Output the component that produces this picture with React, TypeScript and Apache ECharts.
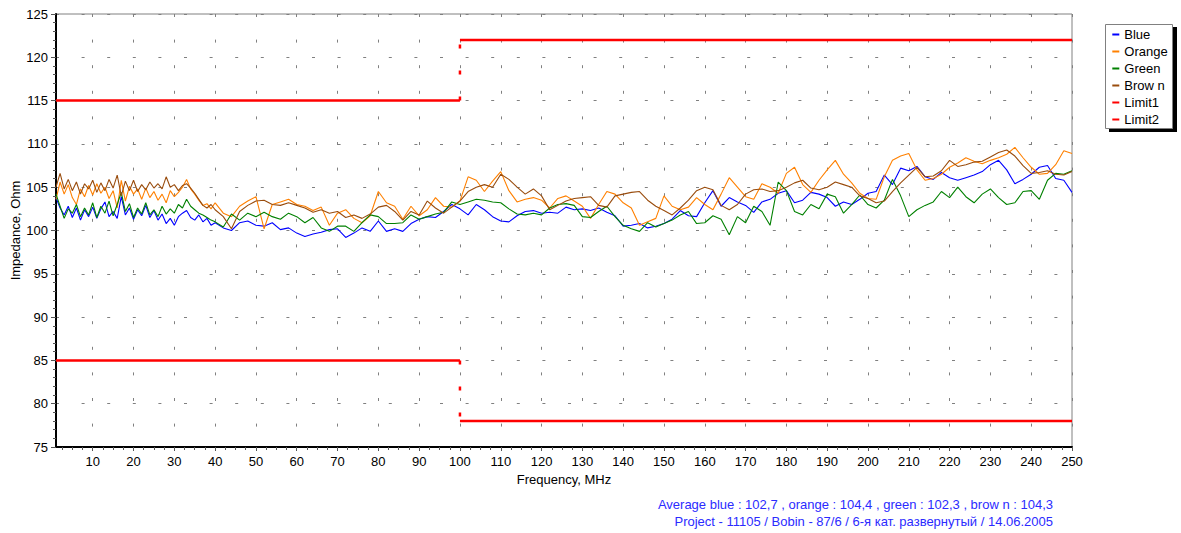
import React, { useEffect, useRef } from "react";
import * as echarts from "echarts";

// Frequency samples (MHz)
const FREQ = [
  1, 2, 3, 4, 5, 6, 7, 8, 9, 10,
  11, 12, 13, 14, 15, 16, 17, 18, 19, 20,
  21, 22, 23, 24, 25, 26, 27, 28, 29, 30,
  31, 32, 33, 34, 35, 36, 37, 38, 39, 40,
  42, 44, 46, 48, 50, 52, 54, 56, 58, 60,
  62, 64, 66, 68, 70, 72, 74, 76, 78, 80,
  82, 84, 86, 88, 90, 92, 94, 96, 98, 100,
  102, 104, 106, 108, 110, 112, 114, 116, 118, 120,
  122, 124, 126, 128, 130, 132, 134, 136, 138, 140,
  142, 144, 146, 148, 150, 152, 154, 156, 158, 160,
  162, 164, 166, 168, 170, 172, 174, 176, 178, 180,
  182, 184, 186, 188, 190, 192, 194, 196, 198, 200,
  202, 204, 206, 208, 210, 212, 214, 216, 218, 220,
  222, 224, 226, 228, 230, 232, 234, 236, 238, 240,
  242, 244, 246, 248, 250,
];

const BLUE = [
  103.8, 102.6, 101.8, 102.8, 101.5, 102.6, 101.2, 102.4, 101.6, 102.7,
  101.4, 102.5, 103.3, 101.6, 102.2, 101.4, 103.9, 101.8, 102.6, 101.3,
  102.4, 101.7, 102.9, 101.5, 102.3, 101.2, 101.9, 100.8, 101.4, 100.6,
  101.6, 102.0, 102.3, 101.5, 101.2, 101.8, 101.0, 101.4, 100.6, 100.9,
  100.3, 100.0, 100.9, 101.1, 100.6, 100.5, 100.9, 100.1, 100.3, 99.7,
  99.3, 99.6, 99.8, 100.1, 100.2, 99.2, 99.7, 100.3, 99.9, 101.1,
  99.9, 100.2, 99.9, 100.8, 101.3, 101.6, 101.5, 102.2, 103.0, 102.5,
  101.8, 103.0, 102.4, 101.6, 101.1, 101.0, 101.7, 102.2, 102.3, 102.0,
  102.1, 102.0, 102.7, 102.4, 102.5, 102.3, 102.6, 102.1, 101.7, 100.5,
  100.6, 100.8, 100.3, 100.5, 100.8, 101.3, 102.3, 101.7, 101.6, 103.2,
  104.6, 102.8, 103.8, 103.3, 102.9, 102.1, 103.3, 103.6, 104.3, 104.6,
  103.2, 103.5, 104.4, 104.2, 103.8, 102.8, 103.3, 103.0, 103.6, 104.3,
  104.5, 106.4, 105.3, 107.2, 106.9, 107.4, 106.2, 105.9, 106.7, 106.1,
  105.8, 106.1, 106.4, 106.8, 107.6, 108.1, 107.0, 105.4, 105.9, 106.5,
  107.3, 107.5, 106.0, 105.8, 104.4,
];

const ORANGE = [
  103.6, 105.6, 104.2, 105.3, 103.8, 103.0, 104.8, 103.9, 105.2, 104.1,
  105.4, 104.3, 105.0, 103.7, 104.6, 102.6, 105.8, 103.4, 105.1, 104.2,
  104.8, 103.6, 104.9, 103.8, 104.5, 103.5, 104.2, 103.2, 104.6, 103.9,
  104.4, 105.0, 105.9, 104.8, 104.2, 103.5, 102.9, 103.1, 102.5, 103.2,
  102.0, 101.6, 102.8, 103.4, 103.9, 100.2, 103.0, 103.3, 103.6, 103.0,
  102.8, 102.3, 102.7, 100.6, 102.0, 102.4, 101.4, 100.9, 101.7, 104.5,
  103.2, 102.8, 101.3, 102.8, 101.7, 102.4, 103.8, 102.8, 102.7, 103.4,
  106.2, 105.8, 104.5, 105.7, 106.8, 104.6, 103.3, 103.6, 103.8, 103.5,
  102.6, 103.7, 104.0, 103.4, 102.8, 101.4, 103.0, 104.5, 104.2, 103.2,
  102.6, 100.6, 101.0, 101.4, 104.0, 102.8, 102.4, 102.7, 103.8, 103.0,
  102.4, 104.2, 106.1, 105.0, 103.9, 103.6, 105.4, 105.0, 104.3, 106.6,
  107.3, 105.3, 104.4, 105.8, 107.0, 108.1, 106.5, 105.5, 104.3, 103.7,
  103.6, 106.2, 108.1, 108.6, 108.9, 107.0, 105.8, 106.0, 106.5, 107.3,
  107.8, 108.4, 108.0, 107.7, 108.1, 108.4, 108.8, 109.6, 108.4, 107.3,
  106.5, 106.6, 107.6, 109.2, 108.9,
];

const GREEN = [
  104.2, 102.8, 101.4, 102.5, 102.0, 103.0, 101.6, 102.6, 101.8, 103.2,
  101.5, 102.8, 102.0, 103.4, 101.7, 103.0, 104.4, 102.2, 103.1, 101.5,
  102.6, 101.9, 103.2, 101.8, 102.4, 101.6, 102.8, 101.9, 102.5, 102.0,
  103.0, 102.6, 103.6, 102.8, 102.4, 102.0, 101.8, 101.5, 101.2, 101.0,
  100.4, 101.9, 101.2, 102.0, 101.6, 102.1, 101.6, 101.3, 102.0, 101.6,
  100.9, 101.5, 100.3, 99.9, 100.5, 100.5, 99.9, 100.9, 101.8, 101.6,
  100.8, 100.8, 100.9, 101.8, 101.3, 101.6, 101.9, 102.1, 103.3, 103.0,
  103.3, 103.6, 103.5, 103.3, 103.2, 102.5, 101.9, 101.8, 102.0, 101.8,
  102.6, 103.0, 103.1, 102.9, 101.6, 101.5, 102.2, 102.8, 101.6, 100.6,
  100.2, 99.9, 100.9, 100.4, 100.8, 101.2, 101.8, 102.2, 100.8, 100.9,
  101.7, 101.3, 99.5, 101.6, 100.9, 102.8, 102.2, 100.6, 105.6, 104.6,
  102.2, 101.8, 103.0, 102.5, 104.2, 103.9, 102.0, 103.0, 104.1, 103.0,
  102.6, 103.5, 105.9, 104.0, 101.6, 102.4, 102.9, 103.3, 104.5, 103.8,
  105.0, 103.9, 103.2, 104.2, 104.8, 103.8, 103.0, 103.2, 104.5, 104.6,
  103.6, 105.8, 106.6, 106.5, 106.9,
];

const BROWN = [
  105.0, 106.6, 104.8, 105.9, 104.6, 105.6, 104.2, 105.4, 104.8, 105.8,
  104.4, 105.5, 104.6, 105.9, 104.9, 106.4, 104.0, 105.7, 104.6, 105.8,
  104.5, 105.3, 104.7, 105.6, 104.9, 105.4, 104.8, 106.2, 105.0, 105.3,
  104.6, 105.2, 105.4, 104.9, 104.3, 103.6, 102.9, 102.6, 103.0, 102.4,
  101.6, 100.2, 102.2, 102.9, 103.4, 103.5, 103.0, 102.9, 103.2, 102.9,
  102.6, 102.1, 102.4, 102.0, 102.2, 101.5, 101.8, 101.4, 101.9, 102.7,
  102.9, 102.2, 101.2, 102.2, 101.8, 103.4, 102.6, 102.0, 102.7, 103.4,
  104.5, 105.0, 105.3, 105.0, 106.5, 105.9, 105.0, 104.2, 104.8, 104.0,
  102.4, 102.9, 103.4, 103.7, 103.8, 103.9, 102.9, 102.7, 104.0, 104.2,
  104.4, 104.5, 103.5, 102.8, 102.3, 101.8, 102.6, 103.5, 104.6, 105.0,
  104.7, 102.9, 102.4, 103.0, 104.2, 104.7, 104.8, 104.5, 104.6, 105.0,
  105.5, 105.8, 104.9, 104.7, 105.0, 105.6, 105.3, 105.0, 104.0, 103.7,
  103.2, 103.4, 104.5, 105.5, 106.4, 107.3, 106.2, 106.3, 106.9, 108.1,
  107.4, 107.6, 107.9, 108.0, 108.5, 109.0, 109.3, 108.6, 107.5, 106.6,
  106.7, 106.9, 106.5, 106.4, 106.8,
];

// Limit lines: [freq, value] break points
const LIMIT_FREQ = [1, 100, 100, 250];
const LIMIT1 = [115, 115, 122, 122];
const LIMIT2 = [85, 85, 78, 78];

const X_LABELS = [
  10, 20, 30, 40, 50, 60, 70, 80, 90, 100, 110, 120, 130,
  140, 150, 160, 170, 180, 190, 200, 210, 220, 230, 240, 250,
];

const LEGEND_NAMES = ["Blue", "Orange", "Green", "Brow n", "Limit1", "Limit2"];
const FOOT_1 = "Average blue : 102,7 , orange : 104,4 , green : 102,3 , brow n : 104,3";
const FOOT_2 = "Project - 11105 / Bobin - 87/6 / 6-я кат. развернутый / 14.06.2005";

const FONT = '"Liberation Sans", Arial, sans-serif';

function pairs(xs: number[], ys: number[]) {
  return xs.map((x, i) => [x, ys[i]]);
}

function limitData(vals: number[]) {
  return [
    [LIMIT_FREQ[0], vals[0]],
    [LIMIT_FREQ[1], vals[1]],
    [LIMIT_FREQ[1], null],
    [LIMIT_FREQ[2], vals[2]],
    [LIMIT_FREQ[3], vals[3]],
  ];
}

export default function App() {
  const ref = useRef<HTMLDivElement>(null);

  useEffect(() => {
    if (!ref.current) return;
    const chart = echarts.init(ref.current, undefined, { renderer: "svg" });
    const minorTicks: number[] = [];
    for (let v = 2.5; v <= 250; v += 2.5) minorTicks.push(v);

    const lineSeries = (name: string, color: string, ys: number[]) => ({
      type: "line",
      name,
      data: pairs(FREQ, ys),
      showSymbol: false,
      symbol: "none",
      lineStyle: { color, width: 1.1 },
      itemStyle: { color },
      z: 3,
    });

    const option: any = {
      animation: false,
      backgroundColor: "#ffffff",
      textStyle: { fontFamily: FONT },
      grid: {
        left: 56,
        top: 14,
        right: 109,
        bottom: 86,
        show: true,
        borderColor: "#808080",
        borderWidth: 1,
        containLabel: false,
        outerBoundsMode: "none",
      },
      xAxis: [
        {
          type: "value",
          min: 1,
          max: 250,
          name: "Frequency, MHz",
          nameLocation: "middle",
          nameGap: 26,
          nameMoveOverlap: false,
          nameTextStyle: { fontSize: 13, color: "#000", fontFamily: FONT },
          axisLine: { show: true, onZero: false, lineStyle: { color: "#000", width: 2 } },
          axisTick: { show: true, length: 4, customValues: X_LABELS, lineStyle: { color: "#555" } },
          axisLabel: { customValues: X_LABELS, fontSize: 13, color: "#000", margin: 8, fontFamily: FONT },
          splitLine: { show: true, lineStyle: { color: "#808080", width: 1, type: [3, 22.6] } },
        },
        {
          type: "value",
          min: 1,
          max: 250,
          position: "bottom",
          axisLine: { show: false },
          axisTick: { show: true, length: 3, customValues: minorTicks, lineStyle: { color: "#555" } },
          axisLabel: { show: false },
          splitLine: { show: false },
        },
      ],
      yAxis: {
        type: "value",
        min: 75,
        max: 125,
        interval: 5,
        name: "Impedance, Ohm",
        nameLocation: "middle",
        nameGap: 34,
        nameMoveOverlap: false,
        nameTextStyle: { fontSize: 13, color: "#000", fontFamily: FONT },
        axisLine: { show: true, onZero: false, lineStyle: { color: "#000", width: 2 } },
        axisTick: { show: true, length: 5, lineStyle: { color: "#555" } },
        minorTick: { show: true, splitNumber: 5, length: 3, lineStyle: { color: "#555" } },
        axisLabel: { fontSize: 13, color: "#000", margin: 8, fontFamily: FONT },
        splitLine: { show: true, lineStyle: { color: "#808080", width: 1, type: [3, 22.6] } },
      },
      legend: {
        orient: "vertical",
        left: 1111,
        top: 28,
        itemWidth: 7,
        itemHeight: 12,
        itemGap: 4,
        padding: 0,
        data: LEGEND_NAMES,
        itemStyle: { opacity: 0 },
        textStyle: { fontSize: 13, color: "#000", fontFamily: FONT },
        z: 10,
      },
      graphic: [
        { type: "rect", z: 1, shape: { x: 1109, y: 27, width: 68, height: 105 }, style: { fill: "#000" } },
        {
          type: "rect",
          z: 2,
          shape: { x: 1105.5, y: 24.5, width: 67, height: 104 },
          style: { fill: "#fff", stroke: "#808080", lineWidth: 1 },
        },
        {
          type: "text",
          x: 1053,
          y: 504,
          style: { text: FOOT_1, fill: "#2b2bff", fontSize: 13, fontFamily: FONT, align: "right", verticalAlign: "middle" },
        },
        {
          type: "text",
          x: 1053,
          y: 521,
          style: { text: FOOT_2, fill: "#2b2bff", fontSize: 13, fontFamily: FONT, align: "right", verticalAlign: "middle" },
        },
      ],
      series: [
        lineSeries("Blue", "#0000ff", BLUE),
        lineSeries("Orange", "#ff8000", ORANGE),
        lineSeries("Green", "#008000", GREEN),
        lineSeries("Brow n", "#994c0d", BROWN),
        {
          type: "line",
          name: "Limit1",
          data: limitData(LIMIT1),
          symbol: "none",
          showSymbol: false,
          connectNulls: false,
          lineStyle: { color: "#ff0000", width: 2.5 },
          itemStyle: { color: "#ff0000" },
          z: 5,
        },
        {
          type: "line",
          name: "Limit2",
          data: limitData(LIMIT2),
          symbol: "none",
          showSymbol: false,
          connectNulls: false,
          lineStyle: { color: "#ff0000", width: 2.5 },
          itemStyle: { color: "#ff0000" },
          z: 5,
        },
        {
          type: "line",
          name: "Limit1 step",
          data: [[LIMIT_FREQ[1], LIMIT1[1]], [LIMIT_FREQ[2], LIMIT1[2]]],
          symbol: "none",
          showSymbol: false,
          lineStyle: { color: "#ff0000", width: 2.5, type: [4, 22] },
          z: 5,
        },
        {
          type: "line",
          name: "Limit2 step",
          data: [[LIMIT_FREQ[1], LIMIT2[1]], [LIMIT_FREQ[2], LIMIT2[2]]],
          symbol: "none",
          showSymbol: false,
          lineStyle: { color: "#ff0000", width: 2.5, type: [4, 22] },
          z: 5,
        },
      ],
    };
    chart.setOption(option);
    return () => chart.dispose();
  }, []);

  return (
    <div
      ref={ref}
      style={{ position: "absolute", left: 0, top: 0, width: 1181, height: 533, background: "#fff" }}
    />
  );
}
